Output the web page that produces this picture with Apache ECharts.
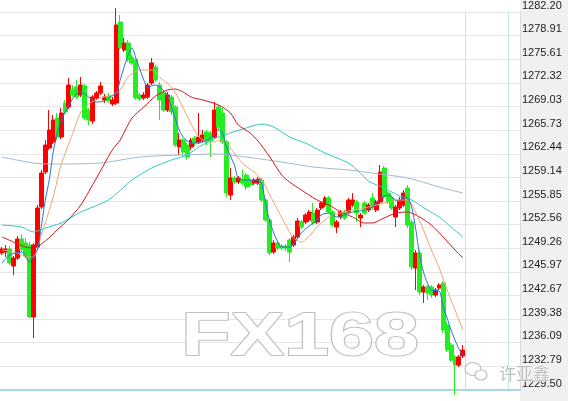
<!DOCTYPE html>
<html>
<head>
<meta charset="utf-8">
<script src="https://cdn.jsdelivr.net/npm/echarts@6/dist/echarts.min.js"></script>
<style>
html, body { margin: 0; padding: 0; background: #fff; }
#chart { width: 568px; height: 401px; }
</style>
</head>
<body>
<div id="chart"></div>
<script>
// price axis
const yMin = 1229.50
const yMax = 1282.20
const yStep = 3.29375
const yTickLabels = ['1229.50', '1232.79', '1236.09', '1239.38', '1242.67', '1245.97', '1249.26', '1252.56', '1255.85',
  '1259.14', '1262.44', '1265.73', '1269.03', '1272.32', '1275.61', '1278.91', '1282.20']

// candles (open / close / low / high)
const openVals = [
  1248.60, 1248.74, 1249.16, 1246.79, 1247.90, 1250.55, 1249.99, 1249.71, 1239.68, 1249.43,
  1255.01, 1259.89, 1263.24, 1264.07, 1267.42, 1264.77, 1269.51, 1268.95, 1271.32, 1271.74,
  1270.63, 1271.88, 1268.53, 1267.00, 1270.21, 1270.90, 1269.93, 1270.49, 1269.37, 1269.51,
  1280.80, 1276.90, 1277.87, 1275.92, 1275.50, 1270.63, 1270.21, 1270.35, 1272.30, 1274.53,
  1272.02, 1270.90, 1268.53, 1270.35, 1268.95, 1263.38, 1264.35, 1263.65, 1263.38, 1264.63,
  1264.07, 1264.35, 1265.47, 1265.33, 1264.77, 1268.95, 1268.12, 1264.07, 1256.68, 1259.05,
  1258.49, 1258.77, 1259.47, 1258.77, 1258.36, 1258.36, 1258.77, 1255.99, 1253.20, 1248.74,
  1249.99, 1249.57, 1249.57, 1250.41, 1249.71, 1250.83, 1252.92, 1252.92, 1253.20, 1254.17,
  1252.92, 1254.87, 1255.29, 1256.26, 1254.31, 1252.22, 1253.62, 1254.31, 1254.31, 1255.29,
  1255.71, 1253.48, 1255.57, 1254.59, 1256.26, 1254.59, 1255.71, 1260.45, 1256.96, 1256.26,
  1253.62, 1254.87, 1255.29, 1257.66, 1252.92, 1246.51, 1248.60, 1243.16, 1243.86, 1243.86,
  1242.74, 1243.72, 1244.41, 1238.56, 1235.77, 1234.10, 1232.98, 1234.24
]
const closeVals = [
  1249.16, 1249.16, 1247.20, 1247.90, 1250.55, 1249.16, 1248.18, 1239.68, 1249.71, 1254.87,
  1259.75, 1263.65, 1265.75, 1267.14, 1264.77, 1268.12, 1268.26, 1272.02, 1270.63, 1270.35,
  1272.02, 1267.42, 1267.14, 1270.35, 1270.90, 1271.88, 1270.35, 1269.79, 1269.93, 1280.39,
  1277.18, 1277.87, 1275.50, 1275.09, 1270.21, 1270.07, 1270.63, 1272.02, 1275.09, 1272.72,
  1269.93, 1268.53, 1270.63, 1268.26, 1263.65, 1264.35, 1262.68, 1261.98, 1264.35, 1263.93,
  1264.77, 1265.05, 1264.07, 1264.21, 1268.53, 1266.16, 1264.07, 1256.96, 1259.05, 1258.49,
  1259.05, 1258.36, 1257.80, 1258.08, 1258.77, 1258.91, 1255.99, 1253.20, 1248.60, 1249.99,
  1249.29, 1249.29, 1249.29, 1248.74, 1250.83, 1253.06, 1252.22, 1253.90, 1254.31, 1252.78,
  1254.59, 1255.57, 1256.26, 1254.31, 1252.50, 1252.92, 1254.31, 1253.48, 1255.99, 1255.99,
  1254.17, 1253.90, 1254.17, 1255.29, 1254.87, 1255.71, 1259.89, 1256.40, 1255.71, 1254.87,
  1255.01, 1255.99, 1256.96, 1252.50, 1246.65, 1248.60, 1243.16, 1243.86, 1243.02, 1242.74,
  1243.44, 1244.14, 1237.86, 1235.07, 1233.68, 1232.98, 1234.10, 1235.07
]
const lowVals = [
  1248.32, 1248.04, 1246.93, 1245.53, 1247.62, 1248.74, 1247.90, 1239.54, 1236.75, 1249.02,
  1254.73, 1259.61, 1262.96, 1263.79, 1264.35, 1264.49, 1267.98, 1268.67, 1270.35, 1270.07,
  1270.35, 1267.14, 1266.44, 1266.58, 1269.93, 1270.63, 1269.51, 1269.51, 1269.09, 1269.23,
  1276.90, 1276.62, 1275.23, 1274.81, 1269.93, 1269.79, 1269.93, 1270.07, 1272.02, 1272.44,
  1267.14, 1268.26, 1268.26, 1267.84, 1263.38, 1262.26, 1261.98, 1261.56, 1262.96, 1263.51,
  1263.79, 1264.07, 1263.65, 1261.98, 1264.49, 1265.75, 1263.79, 1256.40, 1255.99, 1258.22,
  1258.22, 1258.08, 1257.38, 1257.80, 1258.08, 1258.08, 1255.71, 1252.92, 1248.32, 1248.46,
  1249.02, 1249.02, 1248.88, 1247.34, 1249.43, 1250.55, 1251.94, 1252.64, 1252.92, 1252.50,
  1252.64, 1254.59, 1255.01, 1254.04, 1252.22, 1251.39, 1253.34, 1253.20, 1254.04, 1255.01,
  1252.92, 1252.22, 1253.90, 1254.31, 1254.59, 1254.31, 1255.43, 1256.12, 1255.43, 1254.59,
  1252.22, 1254.59, 1255.01, 1252.08, 1246.23, 1243.44, 1242.74, 1241.63, 1242.04, 1242.32,
  1242.46, 1243.44, 1237.44, 1234.80, 1233.40, 1228.80, 1232.70, 1233.96
]
const highVals = [
  1249.43, 1249.71, 1249.57, 1248.18, 1250.97, 1251.25, 1250.69, 1250.13, 1249.99, 1255.29,
  1260.17, 1264.35, 1268.53, 1267.84, 1268.12, 1268.81, 1269.93, 1273.00, 1272.02, 1272.72,
  1273.14, 1272.16, 1268.81, 1270.63, 1271.18, 1272.44, 1270.76, 1270.90, 1270.35, 1282.75,
  1281.78, 1278.57, 1278.29, 1276.20, 1275.78, 1270.90, 1271.04, 1272.30, 1275.78, 1274.81,
  1272.44, 1271.32, 1271.04, 1270.63, 1269.23, 1265.33, 1264.63, 1263.93, 1264.63, 1264.91,
  1268.12, 1265.75, 1265.75, 1265.61, 1269.65, 1269.23, 1268.81, 1264.35, 1260.45, 1259.33,
  1259.33, 1260.17, 1259.75, 1259.05, 1259.05, 1259.19, 1259.05, 1256.26, 1253.48, 1250.41,
  1250.27, 1249.85, 1249.85, 1250.69, 1251.11, 1253.48, 1253.20, 1254.17, 1254.59, 1255.57,
  1254.87, 1255.85, 1256.54, 1256.54, 1254.59, 1253.20, 1254.59, 1254.59, 1256.26, 1256.96,
  1255.99, 1254.17, 1255.85, 1255.57, 1256.96, 1255.99, 1260.87, 1260.73, 1257.24, 1256.54,
  1255.29, 1256.40, 1257.38, 1258.08, 1253.20, 1249.02, 1249.02, 1244.14, 1244.14, 1244.14,
  1243.72, 1244.41, 1244.69, 1238.98, 1236.05, 1234.38, 1234.38, 1235.77
]

// moving averages: [candle index, price]
const maShort = [[0, 1247.20], [2, 1248.32], [5, 1248.74], [7, 1247.34], [8, 1248.32], [9, 1249.02], [10, 1252.36],
  [11, 1256.00], [12, 1258.77], [13, 1262.68], [14, 1265.33], [15, 1267.00], [17, 1269.23], [19, 1270.90], [20, 1271.04],
  [22, 1270.35], [24, 1269.65], [26, 1269.79], [27, 1270.21], [29, 1270.90], [30, 1272.72], [32, 1276.20], [33, 1277.18],
  [34, 1275.78], [36, 1272.72], [37, 1271.74], [39, 1272.02], [40, 1271.74], [42, 1270.63], [43, 1268.95], [45, 1265.75],
  [46, 1264.77], [48, 1263.93], [50, 1263.93], [53, 1264.63], [55, 1265.75], [56, 1265.33], [57, 1263.38], [59, 1260.87],
  [60, 1259.05], [62, 1258.77], [65, 1258.77], [66, 1258.08], [67, 1255.29], [68, 1252.92], [69, 1251.39], [70, 1250.13],
  [71, 1249.43], [73, 1249.43], [74, 1249.85], [76, 1251.39], [77, 1251.94], [78, 1252.36], [80, 1253.20], [81, 1253.90],
  [83, 1254.17], [85, 1253.62], [87, 1253.90], [89, 1254.31], [92, 1254.59], [94, 1255.01], [96, 1256.26], [98, 1256.68],
  [100, 1255.99], [101, 1255.71], [102, 1256.40], [103, 1256.26], [104, 1255.01], [105, 1252.08], [106, 1248.32],
  [107, 1245.95], [108, 1244.41], [109, 1243.44], [111, 1243.30], [112, 1241.07], [113, 1239.54], [114, 1237.86],
  [115, 1236.47], [116, 1235.22], [117, 1234.38]]
const maTen = [[0, 1249.02], [3, 1248.74], [7, 1248.04], [8, 1248.04], [10, 1251.11], [13, 1256.40], [15, 1260.87],
  [18, 1265.33], [20, 1268.26], [22, 1269.37], [25, 1270.21], [28, 1270.63], [30, 1271.32], [32, 1273.14], [35, 1274.11],
  [38, 1274.11], [40, 1273.14], [43, 1271.74], [45, 1269.93], [47, 1267.70], [50, 1264.77], [53, 1264.07], [56, 1264.35],
  [58, 1263.24], [61, 1261.14], [64, 1259.89], [66, 1258.77], [68, 1256.68], [70, 1254.59], [72, 1252.50], [74, 1250.69],
  [76, 1250.13], [78, 1250.97], [80, 1252.22], [83, 1253.62], [86, 1254.17], [89, 1254.59], [93, 1255.01], [97, 1255.57],
  [101, 1255.99], [103, 1255.99], [105, 1254.31], [107, 1251.81], [109, 1249.02], [111, 1246.51], [113, 1243.44],
  [115, 1240.65], [117, 1237.86]]
const maTwenty = [[0, 1250.83], [3, 1250.13], [6, 1249.43], [8, 1249.29], [11, 1250.27], [14, 1251.81], [17, 1253.34],
  [20, 1255.29], [24, 1259.05], [28, 1262.96], [30, 1264.35], [33, 1267.42], [36, 1268.95], [39, 1270.49], [42, 1271.32],
  [44, 1271.46], [46, 1271.04], [48, 1270.35], [51, 1269.93], [55, 1269.23], [58, 1268.12], [60, 1266.44], [63, 1265.33],
  [65, 1264.21], [68, 1261.98], [71, 1259.47], [73, 1258.49], [76, 1257.38], [80, 1255.99], [83, 1255.29], [86, 1254.31],
  [89, 1253.62], [92, 1252.78], [94, 1252.78], [97, 1253.48], [100, 1254.17], [103, 1254.31], [106, 1253.62],
  [109, 1252.50], [112, 1250.83], [115, 1249.02], [117, 1247.90]]
const maSixty = [[0, 1252.50], [5, 1252.22], [8, 1251.53], [11, 1252.08], [15, 1252.78], [20, 1254.31], [27, 1255.99],
  [33, 1258.77], [38, 1260.45], [43, 1261.56], [47, 1262.26], [50, 1263.38], [55, 1264.77], [62, 1266.03], [66, 1266.58],
  [69, 1266.16], [73, 1264.77], [77, 1263.93], [82, 1262.54], [88, 1261.14], [91, 1259.75], [93, 1258.63], [97, 1257.66],
  [101, 1256.54], [104, 1255.99], [108, 1254.59], [111, 1253.62], [114, 1252.22], [117, 1250.83]]
const maLong = [[0, 1261.98], [8, 1261.14], [13, 1261.01], [25, 1261.14], [35, 1261.98], [45, 1262.26], [55, 1262.40],
  [62, 1261.98], [71, 1261.28], [79, 1260.59], [88, 1260.17], [94, 1259.75], [103, 1259.05], [111, 1257.80], [117, 1256.96]]

// 118 candles + empty slots on the right
const slotCount = 132
const categories = Array.from({ length: slotCount }, (_, i) => String(i + 1))

const candleData = openVals.map((o, i) => [o, closeVals[i], lowVals[i], highVals[i]])

const chart = echarts.init(document.getElementById('chart'))

const maLine = (data, color) => ({
  type: 'line',
  data: data,
  smooth: 0.25,
  showSymbol: false,
  silent: true,
  z: 3,
  lineStyle: { width: 1, color: color }
})

chart.setOption({
  animation: false,
  backgroundColor: '#fff',
  grid: { left: 0, right: 48, top: 12, bottom: 11 },
  xAxis: {
    type: 'category',
    data: categories,
    boundaryGap: true,
    axisLine: { show: true, onZero: false, lineStyle: { color: '#a9dada', width: 2 } },
    axisTick: { show: false },
    axisLabel: { show: false },
    splitLine: {
      show: true,
      interval: (i) => i === 118 || i === 129,
      lineStyle: { color: ['#dcdcdc', '#c4e6e6'], width: 1 }
    }
  },
  yAxis: {
    type: 'value',
    position: 'right',
    min: yMin,
    max: yMax,
    interval: yStep,
    axisLine: { show: false },
    axisTick: { show: false },
    splitLine: { lineStyle: { color: '#e6e6e6', width: 1 } },
    axisLabel: {
      margin: 2,
      align: 'left',
      verticalAlign: 'bottom',
      padding: [0, 0, 1, 0],
      color: '#222',
      fontFamily: 'Liberation Sans',
      fontSize: 11,
      formatter: (v) => yTickLabels[Math.round((v - yMin) / yStep)]
    }
  },
  graphic: [
    { type: 'rect', z: -1, silent: true, shape: { x: 520, y: 0, width: 48, height: 401 }, style: { fill: '#f0f0f0' } },
    {
      type: 'text', z: 1, silent: true, x: 300, y: 338, scaleX: 1.3,
      style: {
        text: 'FX168', x: 0, y: 0, textAlign: 'center', textVerticalAlign: 'middle',
        font: 'bold 62px "Liberation Sans"', fill: '#ffffff', stroke: '#bfbfbf', lineWidth: 2,
        shadowColor: 'rgba(0,0,0,0.2)', shadowBlur: 3, shadowOffsetX: 2, shadowOffsetY: 2
      }
    },
    { type: 'ellipse', z: 1, silent: true, shape: { cx: 473, cy: 369, rx: 8, ry: 6.5 }, style: { fill: '#fff', stroke: '#bdbdbd', lineWidth: 1.2 } },
    { type: 'ellipse', z: 1, silent: true, shape: { cx: 481, cy: 375, rx: 6, ry: 5 }, style: { fill: '#fff', stroke: '#bdbdbd', lineWidth: 1.2 } },
    {
      type: 'text', z: 1, silent: true,
      style: {
        text: '许亚鑫', x: 499, y: 374, textVerticalAlign: 'middle',
        font: '17px "Noto Sans CJK SC"', fill: '#bdbdbd', stroke: '#ffffff', lineWidth: 1
      }
    }
  ],
  series: [
    {
      type: 'candlestick',
      data: candleData,
      barWidth: 4.5,
      clip: false,
      z: 2,
      itemStyle: {
        color: '#ff0000',
        color0: '#22ee22',
        borderColor: '#ff0000',
        borderColor0: '#22ee22',
        borderWidth: 1
      }
    },
    maLine(maLong, '#a3b9cf'),
    maLine(maSixty, '#2ec8c8'),
    maLine(maTwenty, '#d7141e'),
    maLine(maTen, '#eda676'),
    maLine(maShort, '#2a72d8')
  ]
})
</script>
</body>
</html>
